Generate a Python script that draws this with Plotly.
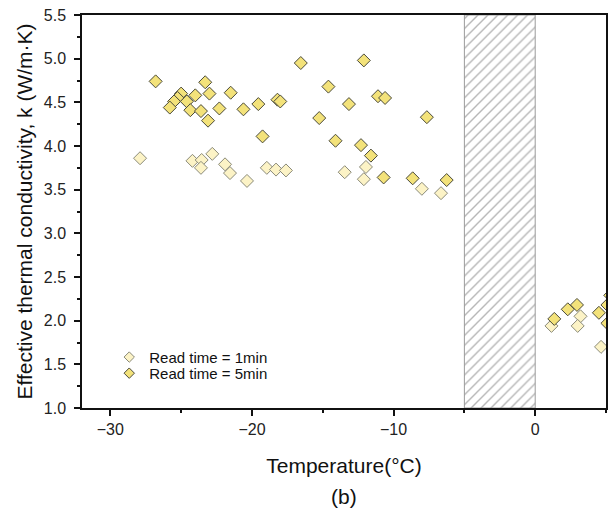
import plotly.graph_objects as go

# Read time = 1 min series
t_1min = [-27.9, -24.2, -23.55, -22.8, -23.6, -21.9, -21.55, -20.35, -18.95, -18.3,
          -17.6, -13.45, -11.95, -12.1, -8.0, -6.65, 1.15, 3.2, 3.0, 4.65]
k_1min = [3.86, 3.83, 3.84, 3.91, 3.75, 3.79, 3.69, 3.60, 3.75, 3.73,
          3.72, 3.70, 3.76, 3.62, 3.51, 3.46, 1.94, 2.05, 1.94, 1.70]

# Read time = 5 min series
t_5min = [-26.8, -23.3, -25.0, -24.0, -23.0, -21.5, -25.25, -25.5, -25.8, -24.6,
          -24.35, -23.6, -23.1, -22.3, -20.6, -19.55, -18.2, -18.0, -19.25, -16.55,
          -12.1, -14.6, -13.15, -11.1, -10.6, -15.25, -7.65, -14.1, -12.3, -11.6,
          -10.7, -8.65, -6.25, 1.35, 2.3, 2.95, 4.5, 5.1, 5.1, 5.3]
k_5min = [4.74, 4.73, 4.60, 4.58, 4.60, 4.61, 4.55, 4.51, 4.44, 4.51,
          4.41, 4.40, 4.29, 4.43, 4.42, 4.48, 4.53, 4.51, 4.11, 4.95,
          4.98, 4.68, 4.48, 4.57, 4.55, 4.32, 4.33, 4.06, 4.01, 3.89,
          3.64, 3.63, 3.61, 2.02, 2.13, 2.18, 2.09, 2.18, 1.97, 2.29]

# Hatched (phase-change) temperature band
band_t = [-5, 0]
y_range = [1.0, 5.5]
x_range = [-32, 5]

series_names = ["Read time = 1min", "Read time = 5min"]

FONT = "Arial, Liberation Sans, sans-serif"
C_LIGHT, E_LIGHT = "#FCF3C6", "#8a8a7a"
C_DARK, E_DARK = "#F3E27A", "#4a4a3a"

fig = go.Figure()

fig.add_trace(go.Scatter(
    x=[band_t[0], band_t[1], band_t[1], band_t[0], band_t[0]],
    y=[y_range[0], y_range[0], y_range[1], y_range[1], y_range[0]],
    mode="lines", fill="toself",
    fillpattern=dict(shape="/", fgcolor="#6e6e6e", bgcolor="white", size=7, solidity=0.2),
    line=dict(color="#9a9a9a", width=1),
    showlegend=False, hoverinfo="skip"))

fig.add_trace(go.Scatter(
    x=t_1min, y=k_1min, mode="markers", name=series_names[0], showlegend=False,
    marker=dict(symbol="diamond", size=10, color=C_LIGHT,
                line=dict(color=E_LIGHT, width=1))))

fig.add_trace(go.Scatter(
    x=t_5min, y=k_5min, mode="markers", name=series_names[1], showlegend=False,
    marker=dict(symbol="diamond", size=10, color=C_DARK,
                line=dict(color=E_DARK, width=1))))

# legend entries (smaller symbols as in the reference legend)
fig.add_trace(go.Scatter(
    x=[None], y=[None], mode="markers", name=series_names[0], legend="legend",
    marker=dict(symbol="diamond", size=8, color=C_LIGHT, line=dict(color=E_LIGHT, width=1))))
fig.add_trace(go.Scatter(
    x=[None], y=[None], mode="markers", name=series_names[1], legend="legend2",
    marker=dict(symbol="diamond", size=8, color=C_DARK, line=dict(color=E_DARK, width=1))))

axis_common = dict(
    showline=True, linecolor="#111", linewidth=1.5, mirror=True,
    ticks="outside", ticklen=6, tickwidth=1.5, tickcolor="#111",
    showgrid=False, zeroline=False,
    tickfont=dict(family=FONT, size=16, color="#222"),
)

fig.update_xaxes(
    range=x_range, dtick=10, tick0=0,
    minor=dict(ticks="outside", dtick=5, ticklen=3, tickwidth=1.5, tickcolor="#111"),
    title=dict(text="Temperature(°C)", font=dict(family=FONT, size=21, color="#111"), standoff=21),
    **axis_common)

fig.update_yaxes(
    range=y_range, dtick=0.5, tick0=1, tickformat=".1f", ticklabelstandoff=5,
    minor=dict(ticks="outside", dtick=0.25, ticklen=3, tickwidth=1.5, tickcolor="#111"),
    title=dict(text="Effective thermal conductivity, k (W/m·K)",
               font=dict(family=FONT, size=21, color="#111"), standoff=5),
    **axis_common)

fig.add_annotation(text="(b)", x=0.5, xref="paper", y=-0.226, yref="paper",
                   yanchor="middle", showarrow=False,
                   font=dict(family=FONT, size=21, color="#111"))

leg_common = dict(xanchor="left", yanchor="top", bgcolor="rgba(0,0,0,0)",
                  font=dict(family=FONT, size=15, color="#111"), x=0.052)
fig.update_layout(
    width=611, height=517,
    margin=dict(l=82, r=3, t=15, b=109),
    plot_bgcolor="white", paper_bgcolor="white",
    legend=dict(y=0.171, **leg_common),
    legend2=dict(y=0.13, **leg_common),
)

fig.write_html("out.html")
